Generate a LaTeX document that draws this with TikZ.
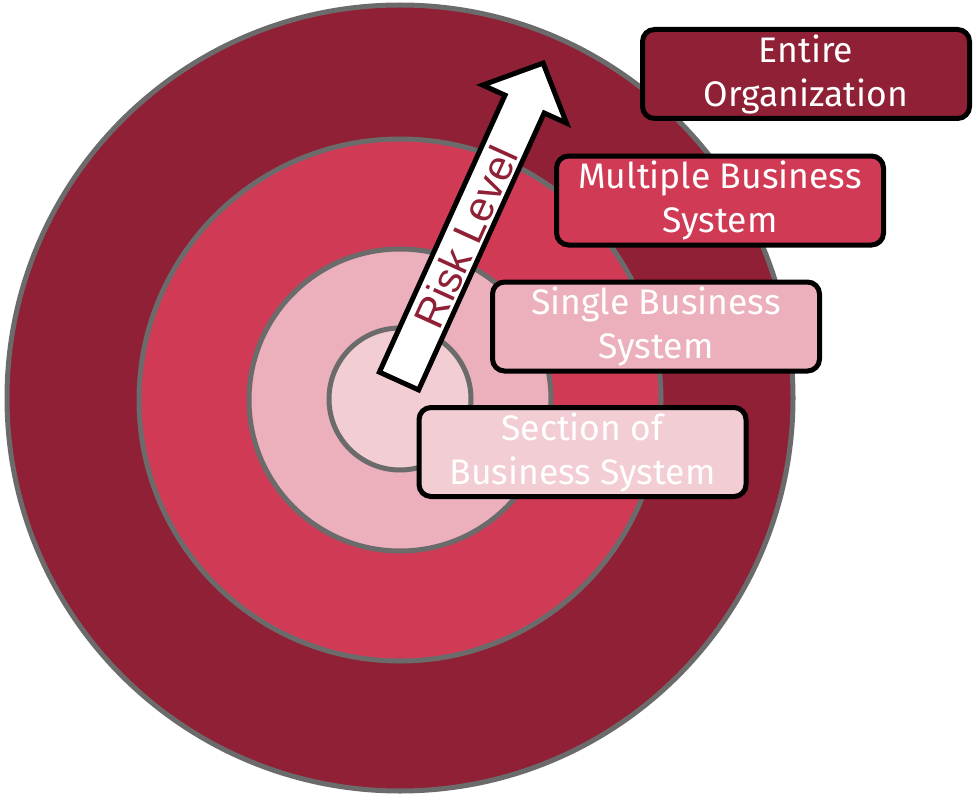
\documentclass[tikz,border=0pt]{standalone}
\usepackage{fontspec}
\newfontfamily\boxfont{Fira Sans}
\newfontfamily\arrowfont{Liberation Sans}
\definecolor{ringA}{HTML}{8F2035}
\definecolor{ringB}{HTML}{D03A55}
\definecolor{ringC}{HTML}{EBB0BB}
\definecolor{ringD}{HTML}{F2CDD3}
\definecolor{ringline}{HTML}{6B6B6B}
\tikzset{
  ring/.style={circle, draw=ringline, line width=5pt, inner sep=0pt},
  levelbox/.style={draw=black, line width=5pt, rounded corners=12pt,
    minimum width=327pt, minimum height=89pt, inner sep=0pt,
    align=center, text=white, font=\boxfont\fontsize{35.5}{44}\selectfont},
  riskarrow/.style={draw=black, fill=white, line width=5pt, line join=miter}
}
\begin{document}
\begin{tikzpicture}[x=1pt,y=-1pt]
\useasboundingbox (0,0) rectangle (974,797);
% rings
\node[ring, fill=ringA, minimum size=786pt] (r1) at (400,398) {};
\node[ring, fill=ringB, minimum size=522pt] (r2) at (400,400) {};
\node[ring, fill=ringC, minimum size=302pt] (r3) at (400,400) {};
\node[ring, fill=ringD, minimum size=142pt] (r4) at (400,399) {};
% arrow
\coordinate (tl) at (379.4,372.1);
\coordinate (tr) at (418.6,389.9);
\coordinate (sr) at (544.2,113);
\coordinate (br) at (566.5,123.1);
\coordinate (tip) at (543.1,63.1);
\coordinate (bl) at (482.7,85.1);
\coordinate (sl) at (505,95.2);
\draw[riskarrow] (tl) -- (tr) -- (sr) -- (br) -- (tip) -- (bl) -- (sl) -- cycle;
\node[rotate=65.6, text=ringA, font=\arrowfont\fontsize{42}{50}\selectfont, inner sep=0pt] (risk) at (466,237) {Risk Level};
% boxes
\node[levelbox, fill=ringA] (org) at (806,74) {Entire\\Organization};
\node[levelbox, fill=ringB] (multi) at (720,200.5) {Multiple Business\\System};
\node[levelbox, fill=ringC] (single) at (656,326.5) {Single Business\\System};
\node[levelbox, fill=ringD] (section) at (582.5,452) {Section of\\Business System};
\end{tikzpicture}
\end{document}
